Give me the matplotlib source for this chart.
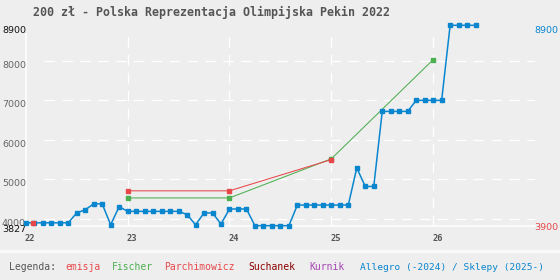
import matplotlib
matplotlib.use("Agg")
import matplotlib.pyplot as plt
import pandas as pd

# ---------------- data ----------------
title = "200 zł - Polska Reprezentacja Olimpijska Pekin 2022"

allegro_dates = pd.date_range("2022-01-01", "2026-06-01", freq="MS")
allegro_values = [
    3900, 3900, 3900, 3900, 3900, 3900, 4150, 4230, 4380, 4380, 3850, 4310,   # 2022
    4190, 4190, 4190, 4190, 4190, 4190, 4190, 4110, 3850, 4150, 4150, 3870,   # 2023
    4250, 4250, 4250, 3827, 3827, 3827, 3827, 3827, 4350, 4350, 4350, 4350,   # 2024
    4350, 4350, 4350, 5290, 4820, 4820, 6720, 6720, 6720, 6720, 7000, 7000,   # 2025
    7000, 7000, 8900, 8900, 8900, 8900,                                       # 2026
]

emisja_x = [2022.07]
emisja_y = [3900]

fischer_x = [2023.0, 2024.0, 2025.0, 2026.0]
fischer_y = [4530, 4530, 5520, 8030]

parch_x = [2023.0, 2024.0, 2025.0]
parch_y = [4710, 4710, 5500]

x_ticks = [2022, 2023, 2024, 2025, 2026]
x_tick_labels = ["22", "23", "24", "25", "26"]
y_grid = [4000, 5000, 6000, 7000, 8000]
y_min, y_max = 3827, 8900
emisja_price = 3900

legend_items = ["emisja", "Fischer", "Parchimowicz", "Suchanek", "Kurnik",
                "Allegro (-2024) / Sklepy (2025-)"]

# ---------------- style ----------------
BG = "#eeeeee"
BLUE = "#0a86cf"
GREEN = "#4caf50"
RED = "#e8474a"
DARKRED = "#8b0000"
PURPLE = "#a744b5"
GRAY = "#555555"
legend_colors = [RED, GREEN, RED, DARKRED, PURPLE, BLUE]
legend_xpx = [65, 111.5, 164.5, 248, 309.5, 359.5]

W, H = 560, 280
fig = plt.figure(figsize=(W / 100, H / 100), dpi=100, facecolor=BG)
ax_left, ax_right, ax_top, ax_bot = 25.8, 535.0, 25.3, 225.7
ax = fig.add_axes([ax_left / W, 1 - ax_bot / H, (ax_right - ax_left) / W, (ax_bot - ax_top) / H])
ax.set_facecolor(BG)
for s in ax.spines.values():
    s.set_visible(False)
ax.set_xlim(2022, 2027)
ax.set_ylim(y_min, y_max)
ax.set_xticks([])
ax.set_yticks([])

# grid
for g in y_grid:
    ax.plot([2022.18, 2027], [g, g], color="white", lw=0.9, dashes=(8.5, 5.8), zorder=1)
for xt in x_ticks[1:]:
    ax.plot([xt, xt], [y_min, 8640], color="white", lw=0.9, dashes=(8.5, 5.8), zorder=1)
ax.plot([2022, 2027], [y_min, y_min], color="white", lw=1.1, zorder=1, clip_on=False)
ax.plot([2022, 2022], [y_min, 8680], color="white", lw=1.1, zorder=1, clip_on=False)

# series
ax_x = [d.year + (d.month - 1) / 12 for d in allegro_dates]
ax.plot(ax_x, allegro_values, color=BLUE, lw=1.1, marker="s", ms=2.2,
        mec=BLUE, mfc=BLUE, zorder=4, clip_on=False)
ax.plot(fischer_x, fischer_y, color=GREEN, lw=0.75, marker="s", ms=2.2, zorder=3)
ax.plot(parch_x, parch_y, color=RED, lw=0.75, marker="s", ms=2.2, zorder=3)
ax.plot(emisja_x, emisja_y, color=RED, lw=0, marker="s", ms=3.0, zorder=5)

# x tick labels
for xt, lab in zip(x_ticks, x_tick_labels):
    ax.annotate(lab, xy=(xt, 0), xycoords=("data", "axes fraction"),
                xytext=(-1, -13), textcoords="offset pixels",
                ha="left", va="center", fontsize=6.3, color=GRAY,
                family="DejaVu Sans Mono", fontweight="bold")

# y labels (left)
for g in y_grid:
    ax.annotate(str(g), xy=(2, g), xycoords=("figure pixels", "data"),
                ha="left", va="top", fontsize=6.8, color="#666666",
                family="DejaVu Sans")
ax.annotate(str(y_max), xy=(2, y_max), xycoords=("figure pixels", "data"),
            xytext=(0, -1), textcoords="offset pixels",
            ha="left", va="top", fontsize=6.8, color="#111111", family="DejaVu Sans")
ax.annotate(str(y_min), xy=(2, y_min), xycoords=("figure pixels", "data"),
            xytext=(0, 0.5), textcoords="offset pixels",
            ha="left", va="top", fontsize=6.8, color="#111111", family="DejaVu Sans")

# right labels
ax.annotate(str(max(allegro_values)), xy=(534.5, max(allegro_values)),
            xycoords=("figure pixels", "data"), xytext=(0, -1), textcoords="offset pixels",
            ha="left", va="top", fontsize=6.8, color=BLUE, family="DejaVu Sans")
ax.annotate(str(emisja_price), xy=(534.5, emisja_price),
            xycoords=("figure pixels", "data"), xytext=(0, 0), textcoords="offset pixels",
            ha="left", va="top", fontsize=6.8, color=RED, family="DejaVu Sans")

# title
fig.text(33 / W, 1 - 12.5 / H, title, ha="left", va="center", fontsize=8.4,
         color=GRAY, family="DejaVu Sans Mono", fontweight="bold")

# legend band
fig.add_artist(plt.Line2D([0, 1], [1 - 251 / H, 1 - 251 / H], transform=fig.transFigure,
                          color="#f9f9f9", lw=2.4))
fig.text(9 / W, 1 - 267 / H, "Legenda:", ha="left", va="center", fontsize=7.0,
         color=GRAY, family="DejaVu Sans Mono")
for lab, col, xp in zip(legend_items, legend_colors, legend_xpx):
    fig.text(xp / W, 1 - 267 / H, lab, ha="left", va="center",
             fontsize=6.8 if col == BLUE else 7.0,
             color=col, family="DejaVu Sans Mono")

fig.savefig("out.png", dpi=100, facecolor=BG)
